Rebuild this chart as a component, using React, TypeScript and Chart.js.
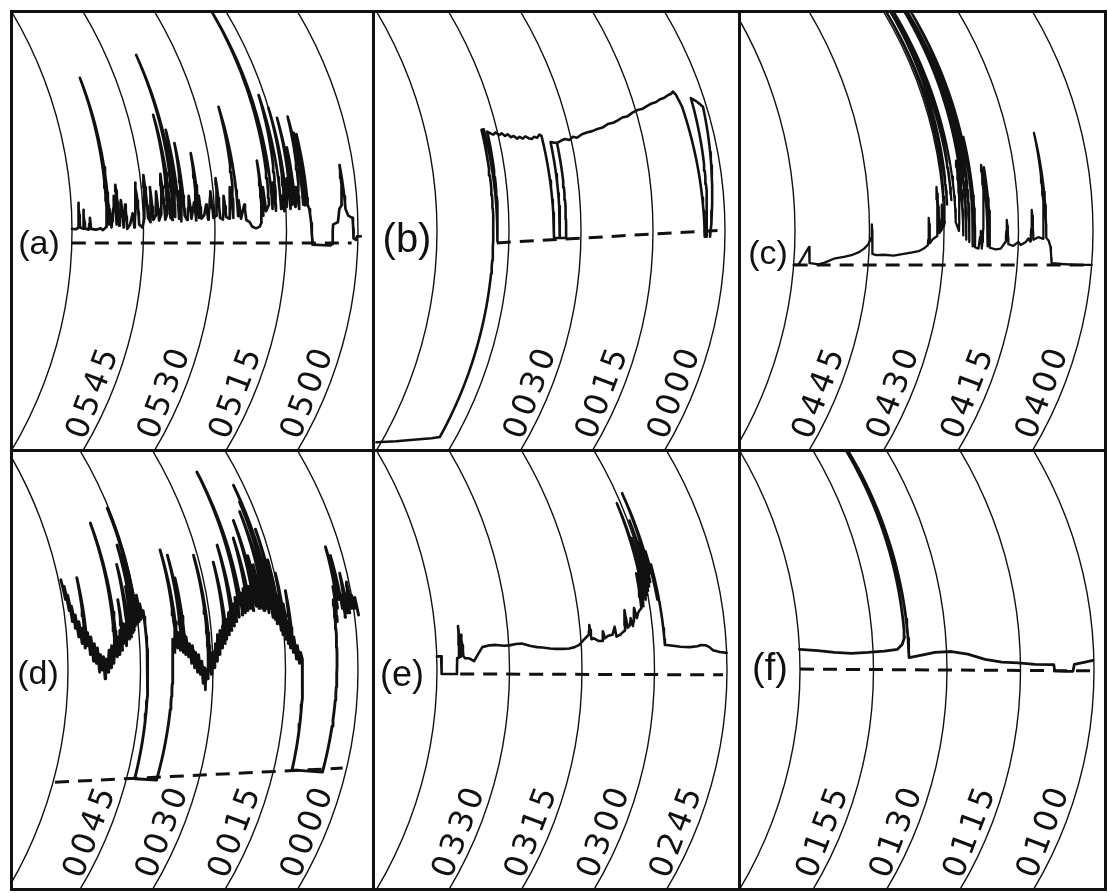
import React, { useEffect, useRef } from 'react';
import { Chart, registerables } from 'chart.js';

Chart.register(...registerables);

type Pt = [number, number] | null;

// ---------------- DATA ----------------
// time of each recorder arc (minutes after midnight) and printed labels
const ARCS_A = [360, 345, 330, 315, 300];
const LABELS_A = ['', '0545', '0530', '0515', '0500'];
const ARCS_B = [60, 45, 30, 15, 0];
const LABELS_B = ['', '', '0030', '0015', '0000'];
const ARCS_C = [300, 285, 270, 255, 240];
const LABELS_C = ['', '0445', '0430', '0415', '0400'];
const ARCS_D = [60, 45, 30, 15, 0];
const LABELS_D = ['', '0045', '0030', '0015', '0000'];
const ARCS_E = [225, 210, 195, 180, 165];
const LABELS_E = ['', '0330', '0315', '0300', '0245'];
const ARCS_F = [120, 105, 90, 75, 60];
const LABELS_F = ['', '0155', '0130', '0115', '0100'];

// traces: [time (min), pen value (% of chart width)]
const TRACE_A: Pt[] = [
  [360, 50.5], [359.2, 50.4], [358.6, 50.8], [358.5, 56.4], [358.3, 50.8], [357.6, 50.5], [357.5, 54.8], [357.3, 50.6],
  [356.5, 50.3], [356.2, 53], [356.0, 50.5], [355, 50.3], [354, 50.6], [353.5, 50.2], [352.7, 51], [352.4, 84.8],
  [352.2, 51.5], [352.0, 55], [351.7, 50.8], [350.9, 58], [350.6, 51.5], [350.4, 60.5], [350.1, 51.2], [349.5, 57],
  [349.2, 50.8], [348.7, 56], [348.4, 50.5], [347.8, 51.5], [347.2, 54], [346.9, 50.8], [346.2, 61], [345.9, 51.5],
  [345.2, 50.8], [344.8, 52.8], [344.3, 62.7], [344.0, 53], [343.5, 52], [343.2, 60], [342.9, 52.5], [342.4, 53.5],
  [342.0, 59], [341.7, 52.4], [341.2, 53.8], [340.7, 63], [340.4, 52.6], [339.9, 54], [339.6, 76.4], [339.3, 53],
  [338.8, 52.5], [338.6, 90], [338.3, 53.2], [337.8, 73], [337.5, 52.8], [337.3, 59], [337.0, 52.2], [336.6, 70],
  [336.3, 53.5], [335.8, 52.5], [335.2, 58], [334.9, 52.8], [334.2, 56.5], [333.9, 52.4], [333.6, 67.7], [333.3, 53],
  [333.1, 58], [332.8, 52.8], [332.2, 53.6], [331.7, 56], [331.4, 52.6], [330.6, 59], [330.3, 53], [329.6, 53.5],
  [329.2, 62], [328.9, 53], [328.3, 52.6], [327.9, 58], [327.6, 53.2], [327.0, 52.8], [326.4, 60], [326.1, 53],
  [325.4, 78.2], [325.1, 53.4], [324.8, 57], [324.5, 52.8], [323.7, 56], [323.4, 52.5], [322.7, 52], [322.2, 51],
  [321.4, 50.6], [320.6, 51], [320.2, 52], [320.0, 66], [319.8, 53.5], [319.5, 60], [319.2, 54.5], [318.5, 56],
  [318.0, 101], [317.8, 55], [317.4, 61], [317.1, 54.6], [316.2, 80.9], [316.0, 55], [315.6, 58], [315.3, 54.5],
  [315.0, 78], [314.8, 55.5], [314.3, 62], [314.0, 55], [313.8, 75.7], [313.5, 56], [313.2, 69], [313.0, 55.5],
  [312.6, 60], [312.2, 55], [311.5, 76], [311.3, 56], [311.1, 72.3], [310.9, 55.8], [310.6, 72], [310.4, 56],
  [310.1, 55], [309.8, 51.8], [309.5, 46.9], [305.8, 46.7], [305.4, 47], [305.2, 51.5], [304.2, 52], [303.8, 55],
  [303.2, 56], [302.8, 65], [302.5, 55], [302.0, 53.5], [301.5, 53.2], [301.1, 53], [300.9, 48.3], [300.4, 48],
  [300.2, 48.8], [299.4, 48.8],
];
const BASE_A: Pt[] = [[360, 47.3], [301.3, 47.3]];

const TRACE_B: Pt[] = [
  [61, 2], [57, 2.2], [53, 2.6], [50, 2.9], [48.4, 3.2], [48.2, 73], [47.7, 73.1], [47.4, 47.6], [47.1, 72.6],
  [46.5, 72.2], [46.0, 71.9], [45.4, 72.4], [44.8, 71.8], [44.2, 72.2], [43.6, 71.6], [43.0, 72.0], [42.4, 71.3],
  [41.8, 71.6], [41.2, 71.0], [40.6, 71.4], [40.0, 71.0], [39.4, 71.5], [38.8, 71.1], [38.2, 70.9], [37.6, 71.4],
  [37.0, 71.2], [36.4, 71.9], [36.0, 71.6], [35.6, 48.4], [33.1, 48.4], [33.1, 70.0], [34.4, 70.2], [34.4, 48.4],
  null,
  [33.1, 70.0], [32.2, 70.5], [31.3, 70.9], [30.4, 70.7], [29.5, 71.4], [28.7, 71.2], [27.5, 72.0], [26.4, 72.4],
  [25.2, 72.7], [24.0, 73.2], [22.9, 73.5], [21.6, 74.3], [20.4, 74.6], [19.4, 75.1], [18.2, 75.8], [17.0, 76.1],
  [15.8, 76.9], [14.6, 77.5], [13.4, 77.8], [12.4, 78.4], [11.2, 79.0], [10.2, 79.3], [9.3, 79.9], [8.2, 80.3],
  [7.2, 80.9], [6.5, 81.2], [6.0, 81.7], [5.6, 81.0], [5.1, 78.2], [4.2, 48.7], [3.9, 48.7], [2.7, 80.2],
  [1.9, 79.6], [1.2, 78.8], [0.75, 78.2], [3.1, 48.7],
];
const BASE_B: Pt[] = [[47.5, 47.3], [0.4, 50.2]];

const TRACE_C: Pt[] = [
  [300, 42.3], [299, 42.4], [297.1, 46.4], [296.8, 42.7], [296, 42.6], [295, 42.4], [293.8, 42.8], [292, 43.7],
  [290, 44.1], [288.5, 44.5], [287, 45.2], [286, 46], [285.2, 47], [284.6, 48.5], [284.5, 51.5], [284.3, 44.8],
  [283.5, 44.5], [282, 44.6], [280, 44.4], [278, 44.8], [276.5, 45.1], [275, 45.4], [274, 46], [273.2, 46.8],
  [273, 53], [272.8, 47.2], [272.2, 48.2], [271.4, 48.8], [271.1, 60], [270.9, 49.5], [270.5, 50.2], [270.3, 56],
  [270.1, 50.8], [269.8, 52], [269.5, 104], [269.2, 56], [268.6, 104], [268.3, 57], [268, 104], [267.6, 52],
  [267, 50], [266.4, 66], [266.1, 49], [265.8, 104], [265.5, 48], [265.2, 104], [264.9, 47.5], [264.5, 104],
  [264.2, 46.5], [264, 71.4], [263.7, 46.3], [263, 46], [262.6, 50], [262.3, 46], [261.5, 65], [261.2, 46.5],
  [261, 64.5], [260.7, 46.2], [259.5, 45.8], [258.5, 46], [257.6, 47.5], [257.3, 52.5], [257, 47], [256, 46.6],
  [255, 47.5], [254.5, 46.8], [253.5, 47.5], [253, 48.3], [252.6, 47.6], [252.2, 54.8], [252, 48], [251, 48.6],
  [250, 48.2], [249.6, 72.3], [249.4, 48.5], [248.9, 47.8], [248.5, 46.4], [248.1, 42.7], [246, 42.5], [243, 42.3],
  [240, 42.3],
];
const BASE_C: Pt[] = [[300, 42.3], [240, 42.3]];

const TRACE_D: Pt[] = [
  [59.5, 70.5], [59.3, 66], [59.1, 69], [58.9, 63.5], [58.7, 67], [58.5, 61], [58.3, 64.5], [58.0, 59.5],
  [57.8, 62.5], [57.5, 57.5], [57.2, 61], [56.9, 56], [56.6, 59.5], [56.3, 55], [56.1, 71], [55.9, 55.5],
  [55.6, 58.5], [55.3, 53.5], [55.0, 57.5], [54.7, 52], [54.4, 56], [54.1, 51.5], [53.8, 55], [53.5, 49.5],
  [53.2, 53.5], [52.9, 50], [52.6, 53], [52.3, 48], [52.0, 52.5], [51.7, 49.5], [51.4, 54.5], [51.1, 50.5],
  [50.8, 55.5], [50.5, 51.5], [50.2, 56], [50.0, 83.4], [49.8, 53], [49.5, 57.5], [49.2, 53.5], [48.9, 59],
  [48.6, 54.5], [48.5, 66], [48.3, 56], [48.0, 60.5], [47.7, 55.5], [47.4, 61], [47.2, 74], [47.0, 57],
  [46.8, 62.5], [46.6, 57.5], [46.4, 69], [46.2, 58.5], [46.0, 78.4], [45.9, 59], [45.8, 76], [45.6, 60],
  [45.4, 65], [45.3, 86.8], [45.1, 60.5], [44.9, 66], [44.7, 61], [44.5, 67], [44.3, 61.5], [44.1, 65],
  [43.9, 62], [43.6, 63.5], [43.3, 25.3], [38.7, 25], [38.3, 52.7],
  [38.1, 57], [37.8, 54], [37.6, 58], [37.4, 77.3], [37.2, 55], [36.9, 58.5], [36.6, 54.5], [36.4, 59],
  [36.2, 76.1], [36.0, 54], [35.8, 70.9], [35.6, 53.5], [35.3, 57.5], [35.0, 53], [34.7, 56], [34.4, 51.5],
  [34.1, 55.5], [33.8, 50.5], [33.5, 54], [33.2, 49.5], [32.9, 53.5], [32.6, 49], [32.3, 52], [32.0, 47],
  [31.7, 50.5], [31.5, 45.5], [31.3, 50], [31.0, 48], [30.8, 76.1], [30.6, 51], [30.3, 49], [30.0, 54],
  [29.7, 50.5], [29.4, 56], [29.1, 52], [28.8, 58], [28.5, 53.5], [28.2, 59], [27.9, 55], [27.6, 60],
  [27.3, 56], [27.1, 74.5], [26.9, 57], [26.6, 61.5], [26.3, 58], [26.0, 63], [25.7, 59], [25.5, 64],
  [25.3, 78.4], [25.1, 60], [24.8, 65], [24.5, 61], [24.2, 66.5], [23.9, 62], [23.6, 67], [23.3, 95],
  [23.1, 62.5], [22.8, 67.5], [22.5, 63], [22.2, 68.5], [21.9, 63.5], [21.5, 80], [21.3, 64], [21.0, 69],
  [20.7, 63.5], [20.4, 70], [20.2, 84], [20.0, 64.5], [19.8, 69], [19.6, 76], [19.4, 64], [19.2, 70],
  [19.0, 73.9], [18.8, 64], [18.6, 70], [18.4, 63.5], [18.2, 86], [18.0, 64], [17.8, 69], [17.6, 63],
  [17.4, 88.2], [17.2, 64], [17.1, 92], [16.9, 62], [16.7, 69.3], [16.5, 61.5], [16.3, 82], [16.1, 60.5],
  [15.9, 66], [15.7, 75], [15.5, 59], [15.4, 67], [15.2, 58], [15.0, 64], [14.8, 72], [14.6, 57],
  [14.4, 65], [14.2, 56], [14.0, 61], [13.8, 55], [13.5, 68], [13.3, 54], [13.0, 57.5], [12.7, 52.5],
  [12.4, 55.5], [12.1, 51.5], [11.8, 54], [11.5, 52.5], [11.2, 27.3], [4.8, 26.8], [4.2, 58],
  [4.1, 62], [3.9, 66], [3.7, 61], [3.5, 69], [3.3, 64], [3.1, 72], [3.0, 78], [2.8, 66], [2.6, 70],
  [2.5, 76], [2.3, 64], [2.1, 67], [1.9, 62], [1.7, 66], [1.5, 72], [1.3, 63], [1.1, 66.5], [0.9, 63],
  [0.7, 68], [0.5, 70], [0.3, 64], [0.0, 67], [-0.3, 64], [-0.6, 66.5], [-0.85, 62.5],
];
const BASE_D: Pt[] = [[59.6, 24.5], [0.8, 27.7]];

const TRACE_E: Pt[] = [
  [225, 53.1], [224.1, 53.1], [224.0, 49.1], [220.9, 49.1], [220.8, 52.7], [220.4, 52.8], [220.2, 60], [220.0, 53],
  [219.7, 58], [219.5, 53.2], [219.2, 52.7], [218.2, 52.6], [217.3, 52], [216.5, 53.5], [215.5, 55.2], [214, 55.6],
  [212.6, 55.7], [211, 55.5], [209.9, 55.6], [208.5, 55.9], [207.3, 56], [205.7, 55.5], [204.2, 55.2], [203.1, 55.1],
  [201.5, 54.9], [200.2, 54.8], [198.8, 54.8], [197.5, 54.9], [196.4, 55.2], [195.4, 55.7], [194.5, 56.8], [193.8, 57.5],
  [193.3, 58], [193.0, 60.2], [192.8, 57], [192.3, 57.2], [191.4, 56.6], [190.6, 56.6], [190.3, 58.8], [190.0, 57.2],
  [189.3, 57.8], [188.4, 58], [187.8, 59.8], [187.6, 57.6], [186.8, 58], [186.2, 58.6], [185.7, 59], [185.4, 63.6],
  [185.1, 59.6], [184.6, 60.2], [184.3, 61.8], [184.0, 60], [183.6, 62], [183.3, 64.1], [183.0, 61.8], [182.6, 63],
  [182.2, 63.6], [181.8, 64], [181.5, 72], [181.3, 64.5], [181.0, 68], [180.8, 87.9], [180.6, 66], [180.4, 80],
  [180.2, 67], [180.0, 76], [179.8, 68], [179.6, 84], [179.4, 69], [179.2, 79], [179.0, 70], [178.8, 90.2],
  [178.6, 72], [178.4, 77], [178.2, 66], [178.0, 74], [177.8, 62], [177.7, 55.7], [177.4, 55.7], [176, 55.5],
  [174.5, 55.3], [172.6, 55.2], [171, 55.4], [170.2, 55.7], [169.2, 55.6], [168.5, 55.2], [167.8, 54.5], [166.4, 54.1],
  [165, 53.9],
];
const BASE_E: Pt[] = [[220.2, 49.1], [165.8, 48.9]];

const TRACE_F: Pt[] = [
  [120, 54.7], [116.3, 54.4], [112.9, 54], [109.4, 53.8], [106.1, 54], [102.7, 54.3], [100, 54.7], [99, 55.8],
  [98.4, 57.5], [98.2, 104], [97.9, 104], [97.7, 52.8], [96.9, 53], [95.1, 53.4], [92.4, 54], [89, 54.2],
  [85.7, 53.6], [82.2, 52.4], [78.8, 51.8], [75.5, 51.6], [72, 51.3], [68.6, 51.2], [68.2, 51.2], [68, 49.8],
  [65.3, 49.7], [64.3, 49.7], [64.0, 51.3], [61.8, 51.8], [60.2, 52.2],
];
const BASE_F: Pt[] = [[120, 50.2], [60.2, 49.8]];

// ---------------- LAYOUT / STYLE ----------------
const R = 428; // pen-arm radius in px
const H = 440;
const INK = '#111';

const PANELS = [
  { key: 'a', label: '(a)', left: 11, top: 11, width: 363, off: 61, spacing: 71.5, arcs: ARCS_A, ticks: LABELS_A, trace: TRACE_A, base: BASE_A, lw: 2.7, lab: [28, 234], fs: 34 },
  { key: 'b', label: '(b)', left: 373, top: 11, width: 367, off: 64, spacing: 72, arcs: ARCS_B, ticks: LABELS_B, trace: TRACE_B, base: BASE_B, lw: 2.6, lab: [34, 230], fs: 40 },
  { key: 'c', label: '(c)', left: 739, top: 11, width: 367, off: 56, spacing: 74.5, arcs: ARCS_C, ticks: LABELS_C, trace: TRACE_C, base: BASE_C, lw: 2.3, lab: [29, 244], fs: 34 },
  { key: 'd', label: '(d)', left: 11, top: 450, width: 363, off: 57, spacing: 72.5, arcs: ARCS_D, ticks: LABELS_D, trace: TRACE_D, base: BASE_D, lw: 2.9, lab: [27, 225], fs: 34 },
  { key: 'e', label: '(e)', left: 373, top: 450, width: 367, off: 64, spacing: 72.5, arcs: ARCS_E, ticks: LABELS_E, trace: TRACE_E, base: BASE_E, lw: 2.6, lab: [29, 226], fs: 36 },
  { key: 'f', label: '(f)', left: 739, top: 450, width: 367, off: 61, spacing: 73.5, arcs: ARCS_F, ticks: LABELS_F, trace: TRACE_F, base: BASE_F, lw: 2.8, lab: [31, 220], fs: 38 },
];

function Panel({ cfg }: { cfg: any }) {
  const ref = useRef<HTMLCanvasElement>(null);
  useEffect(() => {
    const ppm = cfg.spacing / 15;
    const t1 = cfg.arcs[0];
    const xMax = t1 + cfg.off / ppm;
    const xMin = t1 - (cfg.width - cfg.off) / ppm;
    const defMin = (v: number) => {
      const dy = ((v - 50) * H) / 100;
      return (R - Math.sqrt(Math.max(0, R * R - dy * dy))) / ppm;
    };
    const toSegments = (arr: Pt[]) => {
      const segs: { x: number; y: number }[][] = [];
      let cur: { x: number; y: number }[] = [];
      let prev: [number, number] | null = null;
      for (const p of arr) {
        if (p === null) {
          if (cur.length) segs.push(cur);
          cur = [];
          prev = null;
          continue;
        }
        if (!prev) {
          cur.push({ x: p[0] + defMin(p[1]), y: p[1] });
        } else {
          const n = Math.max(1, Math.ceil(Math.abs(p[1] - prev[1]) / 1.5));
          for (let k = 1; k <= n; k++) {
            const t = prev[0] + ((p[0] - prev[0]) * k) / n;
            const v = prev[1] + ((p[1] - prev[1]) * k) / n;
            cur.push({ x: t + defMin(v), y: v });
          }
        }
        prev = p;
      }
      if (cur.length) segs.push(cur);
      return segs;
    };

    const datasets: any[] = [];
    toSegments(cfg.base).forEach((d) =>
      datasets.push({
        data: d, showLine: true, pointRadius: 0, borderColor: INK, borderWidth: 3,
        borderDash: [14, 9], tension: 0, fill: false,
      })
    );
    toSegments(cfg.trace).forEach((d) =>
      datasets.push({
        data: d, showLine: true, pointRadius: 0, borderColor: INK, borderWidth: cfg.lw,
        tension: 0, fill: false, borderJoinStyle: 'round', borderCapStyle: 'round',
      })
    );

    const gridPlugin = {
      id: 'recorderGrid',
      beforeDatasetsDraw(chart: any) {
        const { ctx, chartArea: ca, scales } = chart;
        const xs = scales.x, ys = scales.y;
        ctx.save();
        ctx.beginPath();
        ctx.rect(ca.left, ca.top, ca.right - ca.left, ca.bottom - ca.top);
        ctx.clip();
        ctx.strokeStyle = INK;
        ctx.lineWidth = 1.4;
        const cy = ys.getPixelForValue(50);
        for (const t of cfg.arcs) {
          const px = xs.getPixelForValue(t);
          ctx.beginPath();
          ctx.arc(px - R, cy, R, -0.7, 0.7);
          ctx.stroke();
        }
        ctx.restore();
      },
      afterDraw(chart: any) {
        const { ctx, scales } = chart;
        const xs = scales.x, ys = scales.y;
        const cy = ys.getPixelForValue(50);
        ctx.save();
        ctx.fillStyle = INK;
        // time labels along arcs
        ctx.font = '32px "DejaVu Sans"';
        ctx.textBaseline = 'middle';
        ctx.textAlign = 'left';
        cfg.arcs.forEach((t: number, i: number) => {
          const txt = cfg.ticks[i];
          if (!txt) return;
          const vA = 11.5;
          const py = ys.getPixelForValue(vA);
          const th = Math.asin((py - cy) / R);
          const px = xs.getPixelForValue(t + defMin(vA));
          const cx0 = px - Math.cos(th) * 16;
          const cy0 = py - Math.sin(th) * 16;
          const ang = Math.atan2(-Math.cos(th), Math.sin(th)) - 0.04;
          ctx.save();
          ctx.translate(cx0, cy0);
          ctx.rotate(ang);
          const sp = 4;
          const ws = txt.split('').map((c: string) => ctx.measureText(c).width);
          const total = ws.reduce((a: number, b: number) => a + b, 0) + sp * (ws.length - 1);
          let xx = -total / 2;
          txt.split('').forEach((c: string, j: number) => {
            ctx.fillText(c, xx, 0);
            xx += ws[j] + sp;
          });
          ctx.restore();
        });
        // panel letter
        ctx.font = `${cfg.fs}px "Liberation Sans"`;
        ctx.textAlign = 'center';
        ctx.textBaseline = 'middle';
        ctx.fillText(cfg.label, cfg.lab[0], cfg.lab[1]);
        ctx.restore();
      },
    };

    const chart = new Chart(ref.current as HTMLCanvasElement, {
      type: 'scatter',
      data: { datasets },
      options: {
        responsive: false,
        animation: false,
        devicePixelRatio: 1,
        layout: { padding: 0 },
        events: [],
        scales: {
          x: { type: 'linear', reverse: true, min: xMin, max: xMax, display: false },
          y: { type: 'linear', min: 0, max: 100, display: false },
        },
        plugins: { legend: { display: false }, tooltip: { enabled: false } },
      },
      plugins: [gridPlugin],
    } as any);
    return () => chart.destroy();
  }, []);
  return (
    <canvas
      ref={ref}
      width={cfg.width}
      height={H}
      style={{ position: 'absolute', left: cfg.left, top: cfg.top, width: cfg.width, height: H }}
    />
  );
}

const bar = (left: number, top: number, width: number, height: number) => (
  <div style={{ position: 'absolute', left, top, width, height, background: INK }} />
);

export default function App() {
  return (
    <div style={{ position: 'absolute', left: 0, top: 0, width: 1108, height: 893, background: '#fff', overflow: 'hidden' }}>
      {PANELS.map((p) => (
        <Panel key={p.key} cfg={p} />
      ))}
      {bar(10, 10, 1097, 3)}
      {bar(10, 888, 1097, 3)}
      {bar(10, 10, 3, 881)}
      {bar(1104, 10, 3, 881)}
      {bar(372, 10, 3, 881)}
      {bar(738, 10, 3, 881)}
      {bar(10, 449, 1097, 3)}
    </div>
  );
}
